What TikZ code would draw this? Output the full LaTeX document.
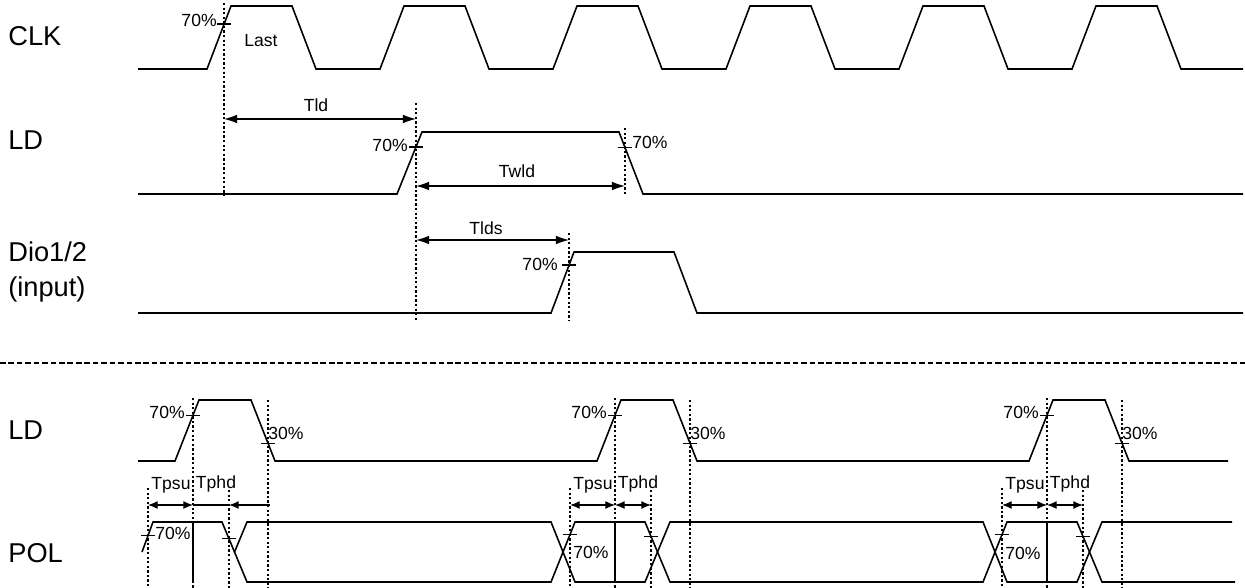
\documentclass[tikz,border=0pt]{standalone}
\usepackage{fontspec}
\setmainfont{Liberation Sans}
\usetikzlibrary{arrows.meta}

% short horizontal level mark on an edge
\newcommand{\levtick}[1]{\draw[tick] (#1) ++(-7,0) -- ++(14,0);}

\begin{document}
\begin{tikzpicture}[x=0.02cm, y=-0.02cm,
    sig/.style={line width=0.9pt},
    guide/.style={line width=0.6pt, dash pattern=on 1.3pt off 1.3pt},
    tick/.style={line width=0.6pt},
    dimarr/.style={line width=0.7pt, {Latex[length=7.5pt,width=5pt]}-{Latex[length=7.5pt,width=5pt]}},
    smallarr/.style={line width=0.6pt, {Latex[length=5.5pt,width=4.5pt]}-{Latex[length=5.5pt,width=4.5pt]}},
    signame/.style={font=\fontsize{15.5}{19}\selectfont, anchor=west, inner sep=0pt, align=left},
    note/.style={font=\fontsize{10}{12}\selectfont, inner sep=0pt}]

  \useasboundingbox (0,0) rectangle (1245,588);

  % signal names
  \node[signame] (nclk) at (8,36) {CLK};
  \node[signame] (nld)  at (8,140) {LD};
  \node[signame] (ndio) at (8,272) {Dio1/2\\[1pt](input)};
  \node[signame] (nld2) at (8,430) {LD};
  \node[signame] (npol) at (8,553) {POL};

  % ---- CLK ----
  \draw[sig] (138,69) \foreach \k in {0,...,5} {
      -- ({207+173*\k},69) -- ({231+173*\k},6) -- ({292+173*\k},6) -- ({316+173*\k},69)
    } -- (1243,69);
  \coordinate (clk70) at (224,24);
  \levtick{clk70}
  \node[note, anchor=east] (clkpct) at (217,20) {70\%};
  \node[note] (last) at (261,41) {Last};

  % ---- LD ----
  \draw[sig] (138,194) -- (397,194) -- (422,132) -- (619,132) -- (643,194) -- (1243,194);
  \coordinate (ldup) at (416,147);
  \coordinate (lddn) at (625,147.5);
  \levtick{ldup}
  \levtick{lddn}
  \node[note, anchor=east] (ldpcta) at (408,145) {70\%};
  \node[note, anchor=west] (ldpctb) at (632,142) {70\%};

  % ---- Dio1/2 ----
  \draw[sig] (138,313) -- (551,313) -- (574,252) -- (674,252) -- (697,313) -- (1243,313);
  \coordinate (dioup) at (569,265);
  \levtick{dioup}
  \node[note, anchor=east] (diopct) at (558,264) {70\%};

  % guide lines
  \draw[guide] (224,3) -- (224,196);
  \draw[guide] (416,103) -- (416,320);
  \draw[guide] (625,128) -- (625,196);
  \draw[guide] (569,233) -- (569,320);

  % timings
  \coordinate (tld-a) at (224,119);  \coordinate (tld-b) at (416,119);
  \coordinate (twld-a) at (416,186); \coordinate (twld-b) at (625,186);
  \coordinate (tlds-a) at (416,240); \coordinate (tlds-b) at (569,240);
  \draw[dimarr] (tld-a) -- (tld-b);
  \draw[dimarr] (twld-a) -- (twld-b);
  \draw[dimarr] (tlds-a) -- (tlds-b);
  \node[note] (tld) at (316,105) {Tld};
  \node[note] (twld) at (517,171) {Twld};
  \node[note] (tlds) at (486,228) {Tlds};

  % separator
  \draw[line width=1.2pt, dash pattern=on 3.2pt off 1.6pt] (0,363) -- (1245,363);

  % ---- LD (second part) ----
  \draw[sig] (138,461) \foreach \b in {193,615,1047} {
      -- ({\b-18},461) -- ({\b+6},400) -- ({\b+58},400) -- ({\b+82},461)
    } -- (1228,461);

  % ---- POL ----
  \draw[sig] (142,552) -- (153,522) -- (222,522) -- (247,582) -- (551,582) -- (575,522)
    -- (645,522) -- (670,582) -- (983,582) -- (1007,522) -- (1077,522) -- (1102,582) -- (1235,582);
  \draw[sig] (234.5,552) -- (247,522) -- (551,522) -- (575,582) -- (645,582) -- (670,522)
    -- (983,522) -- (1007,582) -- (1077,582) -- (1102,522) -- (1232,522);

  \foreach \b/\k in {193/1,615/2,1047/3} {
    % level marks on LD
    \coordinate (ldr-\k) at (\b,415.3);
    \coordinate (ldf-\k) at ({\b+75},443.2);
    \levtick{ldr-\k}
    \levtick{ldf-\k}
    \node[note, anchor=east] (ldr70-\k) at ({\b-8},412) {70\%};
    \node[note, anchor=west] (ldf30-\k) at ({\b+75},433) {30\%};
    % guides
    \draw[guide] (\b,398) -- (\b,588);
    \draw[guide] ({\b+75},400) -- ({\b+75},588);
    \draw[guide] ({\b-45},488) -- ({\b-45},588);
    \draw[guide] ({\b+36},490) -- ({\b+36},588);
    % POL sample line
    \draw[sig] (\b,522) -- (\b,582);
    % setup / hold
    \coordinate (psu-\k) at ({\b-45},505);
    \coordinate (pmid-\k) at (\b,505);
    \coordinate (phd-\k) at ({\b+36},505);
    \draw[smallarr] (psu-\k) -- (pmid-\k);
    \node[note] (tpsu-\k) at ({\b-22},485) {Tpsu};
    \node[note] (tphd-\k) at ({\b+23},484) {Tphd};
  }
  \draw[smallarr] (pmid-2) -- (phd-2);
  \draw[smallarr] (pmid-3) -- (phd-3);
  \coordinate (phdend-1) at (270,505);
  \draw[line width=0.6pt] (pmid-1) -- (phd-1);
  \draw[line width=0.6pt, -{Latex[length=5.5pt,width=4.5pt]}] (phdend-1) -- (phd-1);

  % level marks on POL
  \coordinate (pol-s1) at (148,535.6);
  \coordinate (pol-h1) at (229,538.8);
  \coordinate (pol-s2) at (570,534.5);
  \coordinate (pol-h2) at (651,536.4);
  \coordinate (pol-s3) at (1002,534.5);
  \coordinate (pol-h3) at (1083,536.4);
  \foreach \p in {pol-s1,pol-h1,pol-s2,pol-h2,pol-s3,pol-h3} { \levtick{\p} }
  \node[note, anchor=west] (polpct-1) at (155,533) {70\%};
  \node[note, anchor=west] (polpct-2) at (573,552) {70\%};
  \node[note, anchor=west] (polpct-3) at (1005,553) {70\%};

\end{tikzpicture}
\end{document}
